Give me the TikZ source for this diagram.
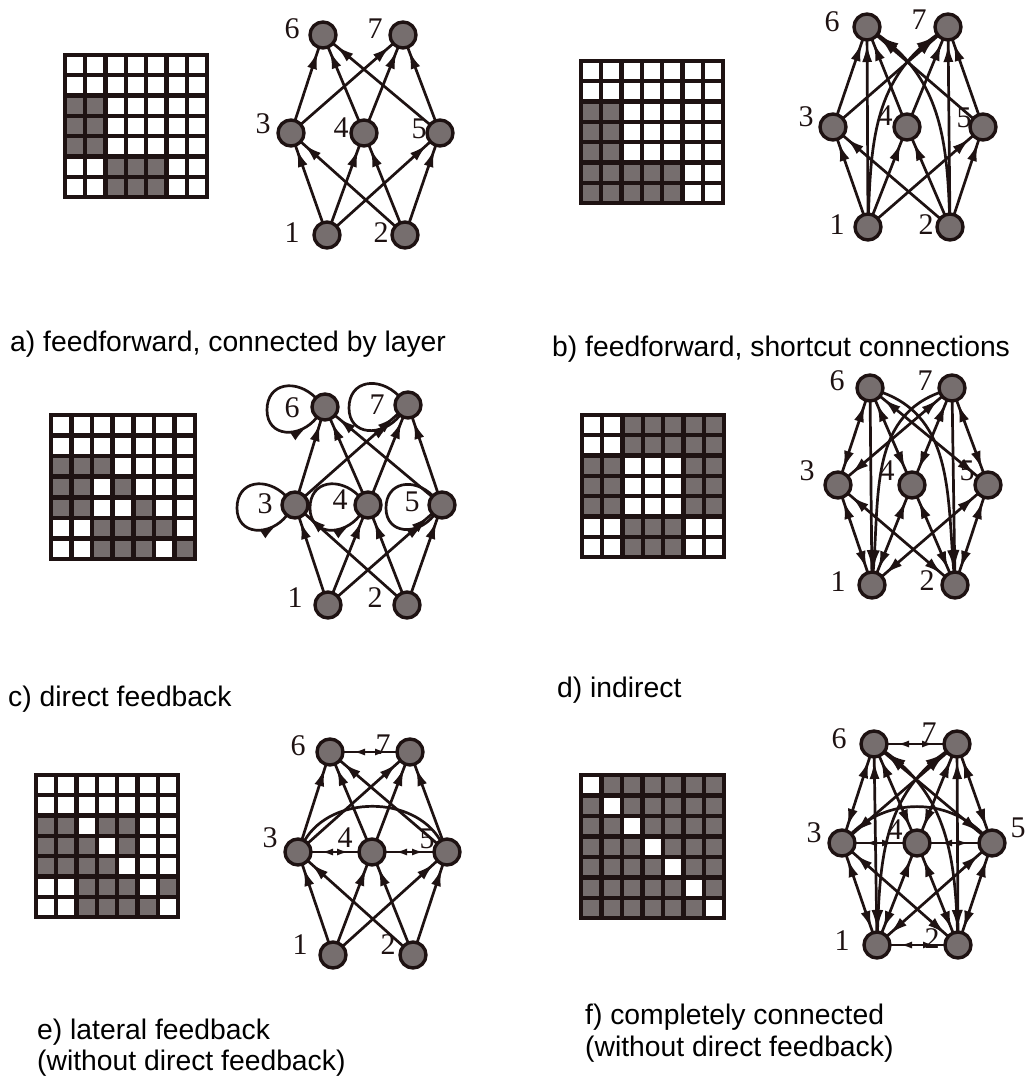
\documentclass[tikz,border=0pt]{standalone}
\usepackage{fontspec}
\setmainfont{Liberation Sans}
\newfontfamily\numfont{Liberation Serif}
\usetikzlibrary{arrows.meta,decorations.markings}
\definecolor{ink}{RGB}{30,18,18}
\definecolor{shd}{RGB}{118,110,110}
\newcommand{\mgrid}[4]{%
  \pgfmathsetmacro{\gp}{(#3-8+4.5)/7}%
  \pgfmathsetmacro{\gs}{\gp-4.5}%
  \fill[ink] (#1,-#2) rectangle ++(#3,-#3);
  \foreach \r in {1,...,7}{\foreach \c in {1,...,7}{%
    \fill[white] ({#1+4+(\c-1)*\gp},{-#2-4-(\r-1)*\gp}) rectangle ++(\gs,-\gs);}}
  \foreach \r/\c in {#4}{%
    \fill[shd] ({#1+4+(\c-1)*\gp},{-#2-4-(\r-1)*\gp}) rectangle ++(\gs,-\gs);}
}
\begin{document}
\begin{tikzpicture}[x=1pt,y=1pt,
  nn/.style={circle, draw=ink, line width=3.4pt, fill=shd, minimum size=26pt, inner sep=0pt, outer sep=0pt},
  lab/.style={font=\numfont\fontsize{30}{30}\selectfont, text=ink, inner sep=0pt},
  captxt/.style={font=\fontsize{28.3}{33}\selectfont, text=black, inner sep=0pt, anchor=base west},
  ed/.style={ink, line width=2.7pt},
  fw/.style={ed, postaction={decorate}, decoration={markings, mark=at position -4pt with {\arrow{Latex[length=18pt,width=10pt]}}}},
  bd/.style={ed, postaction={decorate}, decoration={markings, mark=at position 4pt with {\arrowreversed{Latex[length=18pt,width=10pt]}}, mark=at position -4pt with {\arrow{Latex[length=18pt,width=10pt]}}}},
  lt/.style={ed, postaction={decorate}, decoration={markings, mark=at position 10pt with {\arrowreversed{Latex[length=12pt,width=7pt]}}, mark=at position -10pt with {\arrow{Latex[length=12pt,width=7pt]}}}},
  sl/.style={ed, postaction={decorate}, decoration={markings, mark=at position -13pt with {\arrow{Latex[length=18pt,width=10pt]}}}},
]
\useasboundingbox (0,0) rectangle (1033,-1077);
\fill[white] (0,0) rectangle (1033,-1077);

% ---------- grids ----------
\mgrid{63}{53}{146}{3/1,3/2,4/1,4/2,5/1,5/2,6/3,6/4,6/5,7/3,7/4,7/5}
\mgrid{579}{59}{146}{3/1,3/2,4/1,4/2,5/1,5/2,6/1,6/2,6/3,6/4,6/5,7/1,7/2,7/3,7/4,7/5}
\mgrid{49}{413}{148}{3/1,3/2,3/3,4/1,4/2,4/4,5/1,5/2,5/5,6/3,6/4,6/5,6/6,7/3,7/4,7/5,7/7}
\mgrid{580}{413}{146}{1/3,1/4,1/5,1/6,1/7,2/3,2/4,2/5,2/6,2/7,3/1,3/2,3/6,3/7,4/1,4/2,4/6,4/7,5/1,5/2,5/6,5/7,6/3,6/4,6/5,7/3,7/4,7/5}
\mgrid{34}{773}{146}{3/1,3/2,3/4,3/5,4/1,4/2,4/3,4/5,5/1,5/2,5/3,5/4,6/3,6/4,6/5,6/7,7/3,7/4,7/5,7/6}
\mgrid{579}{773}{147}{1/2,1/3,1/4,1/5,1/6,1/7,2/1,2/3,2/4,2/5,2/6,2/7,3/1,3/2,3/4,3/5,3/6,3/7,4/1,4/2,4/3,4/5,4/6,4/7,5/1,5/2,5/3,5/4,5/6,5/7,6/1,6/2,6/3,6/4,6/5,6/7,7/1,7/2,7/3,7/4,7/5,7/6}

% ---------- nodes ----------
\node[nn] (a6) at (323,-35) {}; \node[nn] (a7) at (403,-35) {};
\node[nn] (a3) at (291,-133) {}; \node[nn] (a4) at (364,-133) {}; \node[nn] (a5) at (440,-133) {};
\node[nn] (a1) at (327,-235) {}; \node[nn] (a2) at (405,-235) {};

\node[nn] (b6) at (867,-27) {}; \node[nn] (b7) at (948,-27) {};
\node[nn] (b3) at (833,-127) {}; \node[nn] (b4) at (907,-127) {}; \node[nn] (b5) at (983,-127) {};
\node[nn] (b1) at (868,-227) {}; \node[nn] (b2) at (950,-227) {};

\node[nn] (c6) at (325,-407) {}; \node[nn] (c7) at (408,-405) {};
\node[nn] (c3) at (295,-505) {}; \node[nn] (c4) at (368,-505) {}; \node[nn] (c5) at (442,-505) {};
\node[nn] (c1) at (328,-605) {}; \node[nn] (c2) at (407,-605) {};
\coordinate (c3w) at (237,-508);
\coordinate (c4w) at (310,-508);
\coordinate (c5w) at (386,-508);
\coordinate (c6w) at (267,-410);
\coordinate (c7w) at (349,-408);

\node[nn] (d6) at (870,-388) {}; \node[nn] (d7) at (952,-388) {};
\node[nn] (d3) at (838,-485) {}; \node[nn] (d4) at (912,-485) {}; \node[nn] (d5) at (988,-485) {};
\node[nn] (d1) at (872,-585) {}; \node[nn] (d2) at (955,-585) {};

\node[nn] (e6) at (330,-752) {}; \node[nn] (e7) at (410,-752) {};
\node[nn] (e3) at (298,-852) {}; \node[nn] (e4) at (372,-852) {}; \node[nn] (e5) at (447,-852) {};
\node[nn] (e1) at (333,-955) {}; \node[nn] (e2) at (413,-955) {};

\node[nn] (f6) at (874,-744) {}; \node[nn] (f7) at (957,-744) {};
\node[nn] (f3) at (842,-843) {}; \node[nn] (f4) at (917,-843) {}; \node[nn] (f5) at (992,-843) {};
\node[nn] (f1) at (877,-945) {}; \node[nn] (f2) at (958,-945) {};

% ---------- edges ----------
% a) feedforward by layer
\foreach \s in {1,2}{\foreach \t in {3,4,5}{\draw[fw] (a\s) -- (a\t);}}
\foreach \s in {3,4,5}{\foreach \t in {6,7}{\draw[fw] (a\s) -- (a\t);}}
% b) shortcut
\foreach \s in {1,2}{\foreach \t in {3,4,5}{\draw[fw] (b\s) -- (b\t);}}
\foreach \s in {3,4,5}{\foreach \t in {6,7}{\draw[fw] (b\s) -- (b\t);}}
\draw[fw] (b1) -- (b6);
\draw[fw] (b2) -- (b7);
\draw[fw] (b1) to[out=88,in=-145] (b7);
\draw[fw] (b2) to[out=92,in=-35] (b6);
% c) direct feedback
\foreach \s in {1,2}{\foreach \t in {3,4,5}{\draw[fw] (c\s) -- (c\t);}}
\foreach \s in {3,4,5}{\foreach \t in {6,7}{\draw[fw] (c\s) -- (c\t);}}
\foreach \n in {3,...,7}{\draw[sl] (c\n) to[out=135,in=90,looseness=1.4] (c\n w) to[out=-90,in=232,looseness=1.4] (c\n);}
% d) indirect
\foreach \s in {1,2}{\foreach \t in {3,4,5}{\draw[bd] (d\s) -- (d\t);}}
\foreach \s in {3,4,5}{\foreach \t in {6,7}{\draw[bd] (d\s) -- (d\t);}}
\draw[fw] (d6) -- (d1);
\draw[fw] (d7) -- (d2);
\draw[fw] (d6) to[out=-20,in=95] (d2);
\draw[fw] (d7) to[out=-160,in=85] (d1);
% e) lateral
\foreach \s in {1,2}{\foreach \t in {3,4,5}{\draw[fw] (e\s) -- (e\t);}}
\foreach \s in {3,4,5}{\foreach \t in {6,7}{\draw[fw] (e\s) -- (e\t);}}
\draw[lt] (e6) -- (e7);
\draw[lt] (e3) -- (e4);
\draw[lt] (e4) -- (e5);
\draw[ed] (e3) to[out=60,in=120] (e5);
% f) completely connected
\foreach \s in {1,2}{\foreach \t in {3,4,5}{\draw[bd] (f\s) -- (f\t);}}
\foreach \s in {3,4,5}{\foreach \t in {6,7}{\draw[bd] (f\s) -- (f\t);}}
\draw[bd] (f1) -- (f6);
\draw[bd] (f2) -- (f7);
\draw[bd] (f1) to[out=88,in=-145] (f7);
\draw[bd] (f2) to[out=92,in=-35] (f6);
\draw[lt] (f6) -- (f7);
\draw[lt] (f1) -- (f2);
\draw[lt] (f3) -- (f4);
\draw[lt] (f4) -- (f5);
\draw[lt] (f3) to[out=45,in=135] (f5);

% ---------- labels ----------
\node[lab] (la6) at (292,-29) {6}; \node[lab] (la7) at (375,-29) {7};
\node[lab] (la3) at (263,-124) {3}; \node[lab] (la4) at (341,-128) {4}; \node[lab] (la5) at (419,-129) {5};
\node[lab] (la1) at (292,-233) {1}; \node[lab] (la2) at (381,-233) {2};

\node[lab] (lb6) at (832,-22) {6}; \node[lab] (lb7) at (919,-20) {7};
\node[lab] (lb3) at (806,-117) {3}; \node[lab] (lb4) at (885,-116) {4}; \node[lab] (lb5) at (964,-118) {5};
\node[lab] (lb1) at (837,-225) {1}; \node[lab] (lb2) at (926,-225) {2};

\node[lab] (lc6) at (292,-408) {6}; \node[lab] (lc7) at (377,-405) {7};
\node[lab] (lc3) at (265,-504) {3}; \node[lab] (lc4) at (340,-500) {4}; \node[lab] (lc5) at (412,-502) {5};
\node[lab] (lc1) at (295,-598) {1}; \node[lab] (lc2) at (375,-598) {2};

\node[lab] (ld6) at (837,-381) {6}; \node[lab] (ld7) at (925,-381) {7};
\node[lab] (ld3) at (807,-471) {3}; \node[lab] (ld4) at (887,-471) {4}; \node[lab] (ld5) at (967,-471) {5};
\node[lab] (ld1) at (838,-582) {1}; \node[lab] (ld2) at (927,-581) {2};

\node[lab] (le6) at (298,-746) {6}; \node[lab] (le7) at (383,-745) {7};
\node[lab] (le3) at (270,-838) {3}; \node[lab] (le4) at (345,-838) {4}; \node[lab] (le5) at (427,-839) {5};
\node[lab] (le1) at (300,-945) {1}; \node[lab] (le2) at (388,-945) {2};

\node[lab] (lf6) at (839,-739) {6}; \node[lab] (lf7) at (929,-733) {7};
\node[lab] (lf3) at (814,-833) {3}; \node[lab] (lf4) at (895,-830) {4}; \node[lab] (lf5) at (1018,-828) {5};
\node[lab] (lf1) at (842,-941) {1}; \node[lab] (lf2) at (932,-939) {2};

% ---------- captions ----------
\node[captxt] (capa) at (10,-351) {a) feedforward, connected by layer};
\node[captxt] (capb) at (552,-356) {b) feedforward, shortcut connections};
\node[captxt] (capc) at (8,-706) {c) direct feedback};
\node[captxt] (capd) at (557,-697) {d) indirect};
\node[captxt] (cape1) at (37,-1039) {e) lateral feedback};
\node[captxt] (cape2) at (37,-1070) {(without direct feedback)};
\node[captxt] (capf1) at (585,-1024) {f) completely connected};
\node[captxt] (capf2) at (585,-1056) {(without direct feedback)};
\end{tikzpicture}
\end{document}
